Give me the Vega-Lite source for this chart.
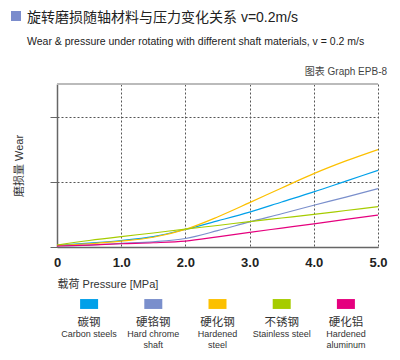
{
  "$schema": "https://vega.github.io/schema/vega-lite/v6.json",
  "padding": {"left": 11, "top": 10, "right": 5, "bottom": 5},
  "config": {
    "font": "Liberation Sans, Noto Sans CJK SC",
    "view": {"stroke": null}
  },
  "title": {
    "text": "旋转磨损随轴材料与压力变化关系 v=0.2m/s",
    "subtitle": "Wear & pressure under rotating with different shaft materials, v = 0.2 m/s",
    "anchor": "start",
    "frame": "group",
    "dx": -30,
    "fontSize": 14,
    "fontWeight": "normal",
    "color": "#222222",
    "subtitleFontSize": 10.5,
    "subtitleColor": "#222222",
    "subtitlePadding": 12,
    "offset": -36
  },
  "spacing": 10,
  "vconcat": [
    {
      "width": 321,
      "height": 163,
      "title": {"text": "图表 Graph EPB-8", "anchor": "end", "fontSize": 10, "fontWeight": "normal", "color": "#444444", "offset": 6},
      "data": {"values": [
        {"p": 0, "m": "Carbon steels", "w": 0.05}, {"p": 0.5, "m": "Carbon steels", "w": 0.12}, {"p": 1, "m": "Carbon steels", "w": 0.2}, {"p": 1.5, "m": "Carbon steels", "w": 0.32}, {"p": 2, "m": "Carbon steels", "w": 0.54}, {"p": 2.5, "m": "Carbon steels", "w": 0.8}, {"p": 3, "m": "Carbon steels", "w": 1.07}, {"p": 3.5, "m": "Carbon steels", "w": 1.38}, {"p": 4, "m": "Carbon steels", "w": 1.69}, {"p": 4.5, "m": "Carbon steels", "w": 2.02}, {"p": 5, "m": "Carbon steels", "w": 2.35},
        {"p": 0, "m": "Hard chrome shaft", "w": 0.03}, {"p": 0.5, "m": "Hard chrome shaft", "w": 0.06}, {"p": 1, "m": "Hard chrome shaft", "w": 0.11}, {"p": 1.5, "m": "Hard chrome shaft", "w": 0.16}, {"p": 2, "m": "Hard chrome shaft", "w": 0.26}, {"p": 2.5, "m": "Hard chrome shaft", "w": 0.5}, {"p": 3, "m": "Hard chrome shaft", "w": 0.77}, {"p": 3.5, "m": "Hard chrome shaft", "w": 1.02}, {"p": 4, "m": "Hard chrome shaft", "w": 1.28}, {"p": 4.5, "m": "Hard chrome shaft", "w": 1.53}, {"p": 5, "m": "Hard chrome shaft", "w": 1.79},
        {"p": 0, "m": "Hardened steel", "w": 0.05}, {"p": 0.5, "m": "Hardened steel", "w": 0.1}, {"p": 1, "m": "Hardened steel", "w": 0.18}, {"p": 1.5, "m": "Hardened steel", "w": 0.3}, {"p": 2, "m": "Hardened steel", "w": 0.54}, {"p": 2.5, "m": "Hardened steel", "w": 0.92}, {"p": 3, "m": "Hardened steel", "w": 1.36}, {"p": 3.5, "m": "Hardened steel", "w": 1.81}, {"p": 4, "m": "Hardened steel", "w": 2.25}, {"p": 4.5, "m": "Hardened steel", "w": 2.64}, {"p": 5, "m": "Hardened steel", "w": 2.99},
        {"p": 0, "m": "Stainless steel", "w": 0.06}, {"p": 0.5, "m": "Stainless steel", "w": 0.2}, {"p": 1, "m": "Stainless steel", "w": 0.32}, {"p": 1.5, "m": "Stainless steel", "w": 0.43}, {"p": 2, "m": "Stainless steel", "w": 0.55}, {"p": 2.5, "m": "Stainless steel", "w": 0.66}, {"p": 3, "m": "Stainless steel", "w": 0.78}, {"p": 3.5, "m": "Stainless steel", "w": 0.89}, {"p": 4, "m": "Stainless steel", "w": 1.0}, {"p": 4.5, "m": "Stainless steel", "w": 1.12}, {"p": 5, "m": "Stainless steel", "w": 1.24},
        {"p": 0, "m": "Hardened aluminum", "w": 0.03}, {"p": 0.5, "m": "Hardened aluminum", "w": 0.06}, {"p": 1, "m": "Hardened aluminum", "w": 0.1}, {"p": 1.5, "m": "Hardened aluminum", "w": 0.13}, {"p": 2, "m": "Hardened aluminum", "w": 0.18}, {"p": 2.5, "m": "Hardened aluminum", "w": 0.31}, {"p": 3, "m": "Hardened aluminum", "w": 0.45}, {"p": 3.5, "m": "Hardened aluminum", "w": 0.58}, {"p": 4, "m": "Hardened aluminum", "w": 0.71}, {"p": 4.5, "m": "Hardened aluminum", "w": 0.85}, {"p": 5, "m": "Hardened aluminum", "w": 0.98}
      ]},
      "layer": [
        {
          "mark": {"type": "line", "interpolate": "monotone", "strokeWidth": 1.2},
          "encoding": {
            "x": {"field": "p", "type": "quantitative", "scale": {"domain": [0, 5], "nice": false},
              "axis": {"values": [0, 1, 2, 3, 4, 5], "labelExpr": "datum.value == 0 ? '0' : format(datum.value, '.1f')",
                "labelFontSize": 13, "labelFontWeight": "bold", "labelColor": "#222222", "labelPadding": 9, "labelFlush": false,
                "ticks": false, "domainColor": "#666666", "domainWidth": 1.5,
                "grid": true, "gridColor": "#555555", "gridDash": [2, 2], "gridWidth": 1,
                "title": "载荷 Pressure  [MPa]", "titleAnchor": "start", "titleFontSize": 11, "titleFontWeight": "normal", "titleColor": "#333333", "titlePadding": 9}},
            "y": {"field": "w", "type": "quantitative", "scale": {"domain": [0, 5], "nice": false},
              "axis": {"values": [0, 1, 2, 3, 4, 5], "labels": false, "ticks": true, "tickSize": 7, "tickColor": "#666666",
                "domainColor": "#666666", "domainWidth": 1.5,
                "grid": true, "gridColor": "#555555", "gridDash": [2, 2], "gridWidth": 1,
                "title": "磨损量 Wear", "titleFontSize": 11, "titleFontWeight": "normal", "titleColor": "#333333", "titlePadding": 25}},
            "color": {"field": "m", "type": "nominal",
              "scale": {"domain": ["Carbon steels", "Hard chrome shaft", "Hardened steel", "Stainless steel", "Hardened aluminum"],
                "range": ["#00a0e9", "#7a8fcc", "#fcc000", "#a6cc00", "#e5007e"]},
              "legend": null}
          }
        },
        {
          "mark": {"type": "rule", "color": "#bbbbbb", "strokeWidth": 2},
          "encoding": {"y": {"datum": 5}}
        },
        {
          "data": {"values": [{"k": "title"}]},
          "mark": {"type": "point", "opacity": 0, "filled": true},
          "encoding": {
            "fill": {"field": "k", "type": "nominal",
              "scale": {"domain": ["title"], "range": ["#7b8ccc"]},
              "legend": {"orient": "none", "legendX": -46, "legendY": -73, "title": null, "labelExpr": "''",
                "symbolType": "square", "symbolSize": 100, "symbolOpacity": 1, "symbolStrokeWidth": 0,
                "padding": 0, "labelOffset": 0, "columnPadding": 0}}
          }
        }
      ]
    },
    {
      "width": 321,
      "height": 26,
      "data": {"values": [
        {"m": "Carbon steels", "cn": "碳钢", "en": "Carbon steels"},
        {"m": "Hard chrome shaft", "cn": "硬铬钢", "en": "Hard chrome\nshaft"},
        {"m": "Hardened steel", "cn": "硬化钢", "en": "Hardened\nsteel"},
        {"m": "Stainless steel", "cn": "不锈钢", "en": "Stainless steel"},
        {"m": "Hardened aluminum", "cn": "硬化铝", "en": "Hardened\naluminum"}
      ]},
      "encoding": {
        "x": {"field": "m", "type": "nominal", "sort": null,
          "scale": {"type": "band", "domain": ["Carbon steels", "Hard chrome shaft", "Hardened steel", "Stainless steel", "Hardened aluminum"], "paddingInner": 0, "paddingOuter": 0},
          "axis": null}
      },
      "layer": [
        {
          "mark": {"type": "point", "shape": "M-1,-0.55H1V0.55H-1Z", "filled": true, "size": 324, "opacity": 1},
          "encoding": {
            "y": {"datum": "swatch", "type": "nominal", "scale": {"type": "point", "domain": ["swatch", "cn", "en"], "padding": 0}, "axis": null},
            "color": {"field": "m", "type": "nominal", "legend": null}
          }
        },
        {
          "mark": {"type": "text", "baseline": "top", "fontSize": 11.5, "color": "#333333", "font": "Noto Sans CJK SC"},
          "encoding": {
            "y": {"datum": "cn", "type": "nominal"},
            "text": {"field": "cn"}
          }
        },
        {
          "mark": {"type": "text", "baseline": "top", "fontSize": 9, "lineBreak": "\n", "lineHeight": 11, "color": "#333333"},
          "encoding": {
            "y": {"datum": "en", "type": "nominal"},
            "text": {"field": "en"}
          }
        }
      ]
    }
  ]
}
